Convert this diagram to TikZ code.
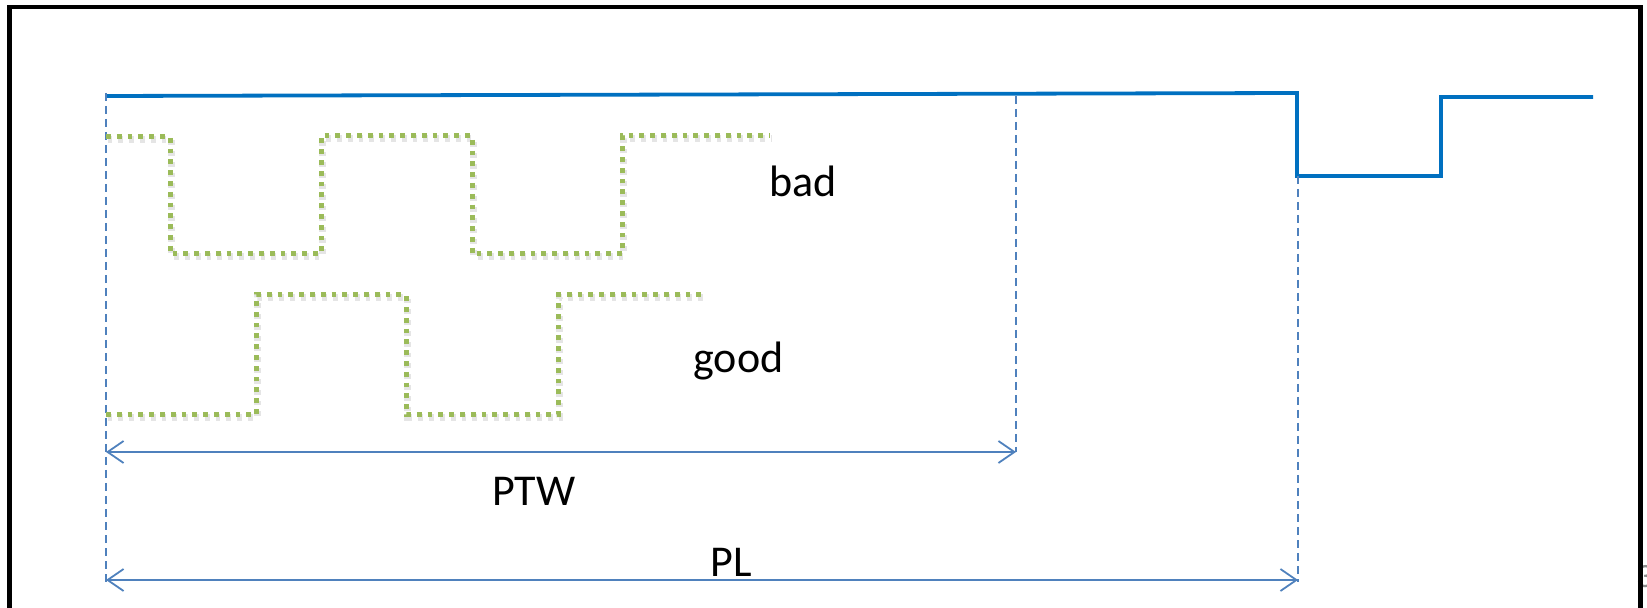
\documentclass[tikz,border=0pt]{standalone}
\usepackage{fontspec}
\setmainfont{Carlito}
\usetikzlibrary{
    positioning,
    arrows.meta
}
\definecolor{azul}{HTML}{0070C0}
\definecolor{azulcota}{HTML}{4F81BD}
\definecolor{verde}{HTML}{9BBB59}
\tikzset{
    >={Straight Barb[length=8pt,width=11pt]},
    senal/.style={
        draw=azul,
        line width=1.9pt
    },
    guia/.style={
        draw=azulcota,
        line width=0.9pt,
        dash pattern=on 4pt off 2.5pt
    },
    cota/.style={
        draw=azulcota,
        line width=0.9pt,
        <->
    },
    onda/.style={
        draw=verde,
        line width=2.5pt,
        dash pattern=on 2.4pt off 3pt,
        preaction={
            draw=black!10,
            line width=3.4pt,
            dash pattern=on 2.4pt off 3pt,
            transform canvas={xshift=0.8pt,yshift=-1.2pt}
        }
    },
    etiqueta/.style={
        anchor=base west,
        inner sep=0pt,
        font=\fontsize{22}{26}\selectfont
    }
}

\begin{document}
\begin{tikzpicture}[
    x=0.5pt,
    y=-0.5pt
]
    \clip (0,0) rectangle (1647,608);

    % Puntos de referencia
    \coordinate (s0)   at (106,96);
    \coordinate (s1)   at (1297,93);
    \coordinate (s2)   at (1297,176);
    \coordinate (s3)   at (1441,176);
    \coordinate (s4)   at (1441,97);
    \coordinate (s5)   at (1593,97);
    \coordinate (g0)   at (106,93);
    \coordinate (gm)   at (1016,96);
    \coordinate (gr)   at (1298,176);
    \coordinate (ptwA) at (106,452);
    \coordinate (ptwB) at (1016,452);
    \coordinate (plA)  at (106,580);
    \coordinate (plB)  at (1298,580);

    % Senal principal
    \draw[senal] (s0) -- (s1) -- (s2) -- (s3) -- (s4) -- (s5);

    % Lineas guia
    \draw[guia] (g0) -- ([yshift=-1pt]plA);
    \draw[guia] (gm) -- (ptwB);
    \draw[guia] (gr) -- ([yshift=-1pt]plB);

    % Ondas
    \draw[onda] (106,137) -| (170,254) -| (321,136) -| (472,254)
        -| (622,136) -- (770,136);
    \draw[onda] (106,415) -| (256,295) -| (406,415) -| (558,295)
        -- (707,295);

    % Cotas
    \draw[cota] (ptwA) -- (ptwB);
    \draw[cota] (plA) -- (plB);

    % Etiquetas
    \node[etiqueta] (bad)  at (769,197) {bad};
    \node[etiqueta] (good) at (693,373) {good};
    \node[etiqueta] (ptw)  at (492,505) {PTW};
    \node[etiqueta] (pl)   at (710,576) {PL};
    \node[etiqueta, text=black!45, font=\fontsize{17}{20}\selectfont]
        (num) at (1636,587) {3};

    % Marco
    \draw[line width=2.3pt] (9.5,7) rectangle (1640.5,660);

\end{tikzpicture}
\end{document}
